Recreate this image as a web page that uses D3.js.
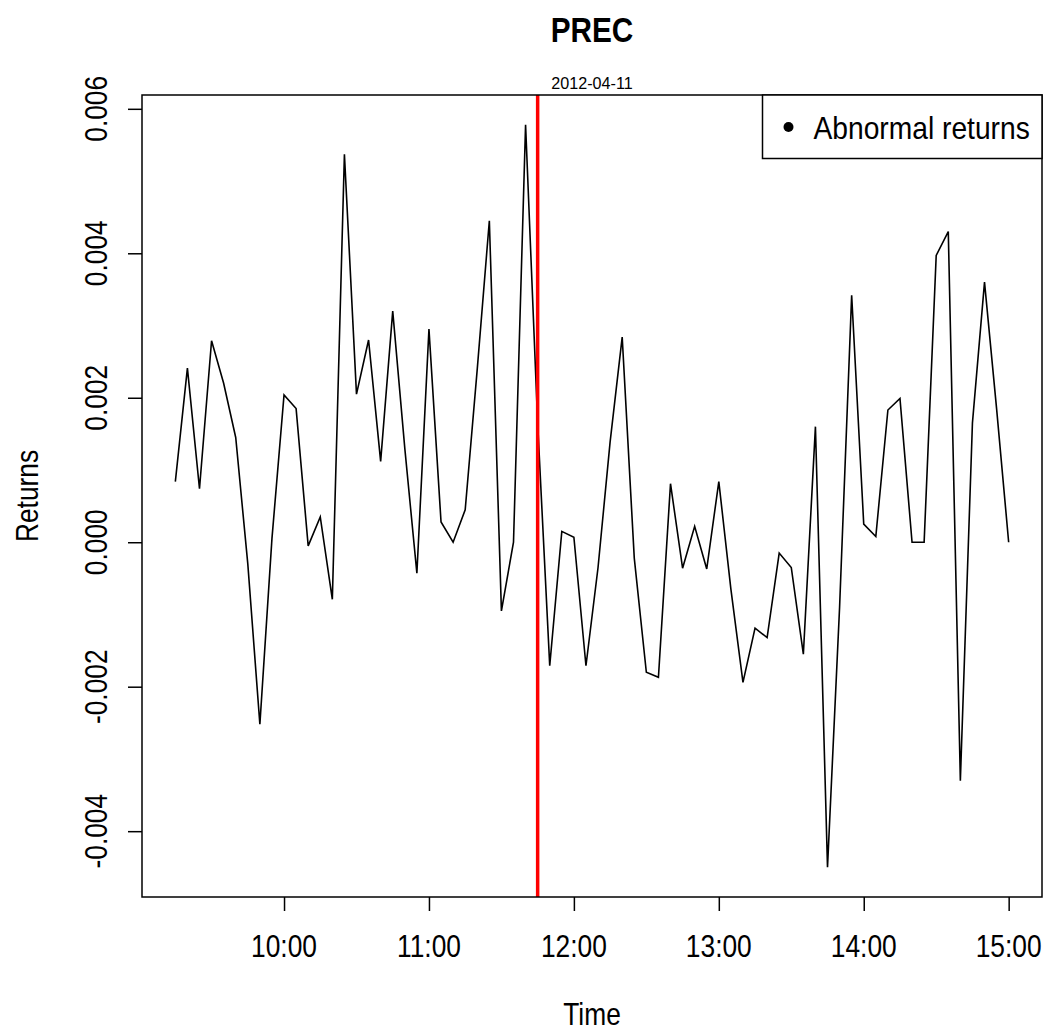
<!DOCTYPE html>
<html>
<head>
<meta charset="utf-8">
<script src="https://cdn.jsdelivr.net/npm/d3@7"></script>
<style>
  body { margin: 0; background: #fff; }
  text { font-family: "Liberation Sans", Arial, sans-serif; fill: #000; }
</style>
</head>
<body>
<div class="vis-returns"></div>
<script>
// 5-minute abnormal returns for PREC
const times = [
    '09:15', '09:20', '09:25', '09:30', '09:35', '09:40', '09:45', '09:50', '09:55',
    '10:00', '10:05', '10:10', '10:15', '10:20', '10:25', '10:30', '10:35', '10:40', '10:45', '10:50', '10:55',
    '11:00', '11:05', '11:10', '11:15', '11:20', '11:25', '11:30', '11:35', '11:40', '11:45', '11:50', '11:55',
    '12:00', '12:05', '12:10', '12:15', '12:20', '12:25', '12:30', '12:35', '12:40', '12:45', '12:50', '12:55',
    '13:00', '13:05', '13:10', '13:15', '13:20', '13:25', '13:30', '13:35', '13:40', '13:45', '13:50', '13:55',
    '14:00', '14:05', '14:10', '14:15', '14:20', '14:25', '14:30', '14:35', '14:40', '14:45', '14:50', '14:55',
    '15:00'
];
const returns = [
    0.00084, 0.00241, 0.00074, 0.00279, 0.00220, 0.00145, -0.00030, -0.00252, 0.00005,
    0.00204, 0.00185, -0.00005, 0.00035, -0.00079, 0.00537, 0.00205, 0.00280, 0.00112, 0.00320, 0.00130, -0.00043,
    0.00295, 0.00028, 0.00000, 0.00045, 0.00240, 0.00445, -0.00095, 0.00000, 0.00578, 0.00165, -0.00171, 0.00015,
    0.00007, -0.00171, -0.00035, 0.00139, 0.00284, -0.00022, -0.00180, -0.00187, 0.00081, -0.00036, 0.00022, -0.00037,
    0.00084, -0.00065, -0.00194, -0.00119, -0.00132, -0.00015, -0.00035, -0.00155, 0.00160, -0.00450, -0.00090, 0.00342,
    0.00025, 0.00008, 0.00183, 0.00199, 0.00000, 0.00000, 0.00397, 0.00430, -0.00330, 0.00165, 0.00360, 0.00185,
    0.00000
];
const xTickLabels = ['10:00', '11:00', '12:00', '13:00', '14:00', '15:00'];
const yTickValues = [-0.004, -0.002, 0.000, 0.002, 0.004, 0.006];
const yTickLabels = ['-0.004', '-0.002', '0.000', '0.002', '0.004', '0.006'];
const eventTime = '11:45';
const eventLabel = '2012-04-11';
const seriesName = 'Abnormal returns';

const parseTime = d3.timeParse('%H:%M');
const data = times.map((t, i) => ({time: parseTime(t), value: returns[i]}));

const outerWidth = 1049, outerHeight = 1030;
const margin = {top: 95, right: 7, bottom: 133, left: 142};
const width = outerWidth - margin.left - margin.right;
const height = outerHeight - margin.top - margin.bottom;
const sx = 0.85; // narrow glyphs as in the original

const svg = d3.select('.vis-returns')
    .append('svg')
    .attr('width', outerWidth)
    .attr('height', outerHeight);

// R style: pad the data range by 4% on each side
const pad = ([a, b]) => { const d = (b - a) * 0.04; return [a - d, b + d]; };
const tExt = d3.extent(data, d => d.time);
const tPad = (tExt[1] - tExt[0]) * 0.04;
const x = d3.scaleTime()
    .domain([new Date(+tExt[0] - tPad), new Date(+tExt[1] + tPad)])
    .range([margin.left, margin.left + width]);
const y = d3.scaleLinear()
    .domain(pad(d3.extent(data, d => d.value)))
    .range([margin.top + height, margin.top]);

const label = (txt, px, py, opts = {}) => {
    svg.append('text')
        .attr('transform', `translate(${px},${py}) rotate(${opts.rot || 0}) scale(${opts.sx || sx},1)`)
        .attr('text-anchor', opts.anchor || 'middle')
        .style('font-size', (opts.size || 31) + 'px')
        .style('font-weight', opts.bold ? 'bold' : 'normal')
        .text(txt);
};

// data line
const line = d3.line()
    .x(d => x(d.time))
    .y(d => y(d.value));

svg.append('path')
    .datum(data)
    .attr('d', line)
    .attr('fill', 'none')
    .attr('stroke', '#000')
    .attr('stroke-width', 1.6);

// event marker
svg.append('line')
    .attr('x1', x(parseTime(eventTime)))
    .attr('x2', x(parseTime(eventTime)))
    .attr('y1', margin.top)
    .attr('y2', margin.top + height)
    .attr('stroke', '#ff0000')
    .attr('stroke-width', 3.5);

// axes
const xAxis = d3.axisBottom(x)
    .tickValues(xTickLabels.map(parseTime))
    .tickSize(14)
    .tickFormat('');
svg.append('g')
    .attr('transform', `translate(0,${margin.top + height})`)
    .call(xAxis)
    .call(g => g.select('.domain').remove())
    .call(g => g.selectAll('line').attr('stroke', '#000').attr('stroke-width', 1.5));

const yAxis = d3.axisLeft(y)
    .tickValues(yTickValues)
    .tickSize(14)
    .tickFormat('');
svg.append('g')
    .attr('transform', `translate(${margin.left},0)`)
    .call(yAxis)
    .call(g => g.select('.domain').remove())
    .call(g => g.selectAll('line').attr('stroke', '#000').attr('stroke-width', 1.5));

xTickLabels.forEach(t => label(t, x(parseTime(t)), 957));
yTickValues.forEach((v, i) => label(yTickLabels[i], 107, y(v), {rot: -90}));

// frame
svg.append('rect')
    .attr('x', margin.left)
    .attr('y', margin.top)
    .attr('width', width)
    .attr('height', height)
    .attr('fill', 'none')
    .attr('stroke', '#000')
    .attr('stroke-width', 1.5);

// titles
label('PREC', margin.left + width / 2, 42, {size: 35, bold: true});
label(eventLabel, margin.left + width / 2, 89, {size: 17, sx: 0.95});
label('Time', margin.left + width / 2, 1025);
label('Returns', 38, margin.top + height / 2, {rot: -90});

// legend
const legendG = svg.append('g')
    .attr('transform', `translate(${margin.left + width - 279.5},${margin.top})`);

legendG.append('rect')
    .attr('width', 279.5)
    .attr('height', 63.5)
    .attr('fill', '#fff')
    .attr('stroke', '#000')
    .attr('stroke-width', 1.5);

legendG.append('circle')
    .attr('cx', 26)
    .attr('cy', 32)
    .attr('r', 5)
    .attr('fill', '#000');

legendG.append('text')
    .attr('transform', 'translate(51,44) scale(0.91,1)')
    .style('font-size', '31px')
    .text(seriesName);
</script>
</body>
</html>
